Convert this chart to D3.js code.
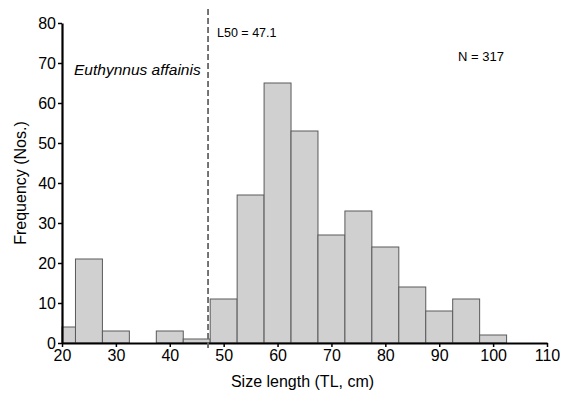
<!DOCTYPE html>
<html>
<head>
<meta charset="utf-8">
<script src="https://cdn.jsdelivr.net/npm/d3@7"></script>
<style>
  body { margin: 0; background: #fff; }
  text { font-family: "Liberation Sans", Arial, sans-serif; fill: #000; }
</style>
</head>
<body>
<script>
// bin centres (5 cm classes), first bin is cut at the axis start
var binMids = [20, 25, 30, 35, 40, 45, 50, 55, 60, 65, 70, 75, 80, 85, 90, 95, 100];
var counts  = [4, 21, 3, 0, 3, 1, 11, 37, 65, 53, 27, 33, 24, 14, 8, 11, 2];
var xTicks = [20, 30, 40, 50, 60, 70, 80, 90, 100, 110];
var yTicks = [0, 10, 20, 30, 40, 50, 60, 70, 80];
var l50 = 47.1;
var nTotal = 317;

var W = 561, H = 396;
var margin = {top: 23, right: 14, bottom: 53, left: 62};

var svg = d3.select("body").append("svg")
    .attr("width", W)
    .attr("height", H);

var x = d3.scaleLinear().domain([20, 110]).range([margin.left, W - margin.right]);
var y = d3.scaleLinear().domain([0, 80]).range([H - margin.bottom, margin.top]);

// bars
svg.selectAll(".bar")
  .data(binMids.map(function(m, i) { return {m: m, c: counts[i]}; }).filter(function(d) { return d.c > 0; }))
  .enter().append("rect")
    .attr("class", "bar")
    .attr("x", function(d) { return x(Math.max(20, d.m - 2.5)); })
    .attr("width", function(d) { return x(d.m + 2.5) - x(Math.max(20, d.m - 2.5)); })
    .attr("y", function(d) { return y(d.c); })
    .attr("height", function(d) { return y(0) - y(d.c); })
    .style("fill", "#d0d0d0")
    .style("stroke", "#5a5a5a")
    .style("stroke-width", 1);

// axes
var xAxis = svg.append("g")
    .attr("transform", "translate(0," + y(0) + ")")
    .call(d3.axisBottom(x).tickValues(xTicks).tickSize(4).tickPadding(3).tickSizeOuter(0));
var yAxis = svg.append("g")
    .attr("transform", "translate(" + x(20) + ",0)")
    .call(d3.axisLeft(y).tickValues(yTicks).tickSize(4).tickPadding(2).tickSizeOuter(0));

[xAxis, yAxis].forEach(function(a) {
  a.select(".domain").style("stroke", "#000").style("stroke-width", 2.2);
  a.selectAll(".tick line").style("stroke", "#000").style("stroke-width", 1.5);
  a.selectAll(".tick text").style("font-size", "16px").style("font-family", "Liberation Sans, Arial, sans-serif").attr("fill", "#000");
});

// L50 line
svg.append("line")
    .attr("x1", x(l50)).attr("x2", x(l50))
    .attr("y1", 9).attr("y2", y(0) + 5)
    .style("stroke", "#666")
    .style("stroke-width", 1.8)
    .style("stroke-dasharray", "6,3");

svg.append("text")
    .attr("x", x(l50) + 9).attr("y", 37)
    .style("font-size", "12.5px")
    .text("L50 = " + l50);

svg.append("text")
    .attr("x", 458).attr("y", 61)
    .style("font-size", "13px")
    .text("N = " + nTotal);

svg.append("text")
    .attr("x", 74).attr("y", 75)
    .style("font-size", "15.5px")
    .style("font-style", "italic")
    .text("Euthynnus affainis");

// axis titles
svg.append("text")
    .attr("x", (x(20) + x(110)) / 2 - 2).attr("y", 387)
    .attr("text-anchor", "middle")
    .style("font-size", "16px")
    .text("Size length (TL, cm)");

svg.append("text")
    .attr("transform", "translate(26," + y(40) + ") rotate(-90)")
    .attr("text-anchor", "middle")
    .style("font-size", "16px")
    .text("Frequency (Nos.)");
</script>
</body>
</html>
